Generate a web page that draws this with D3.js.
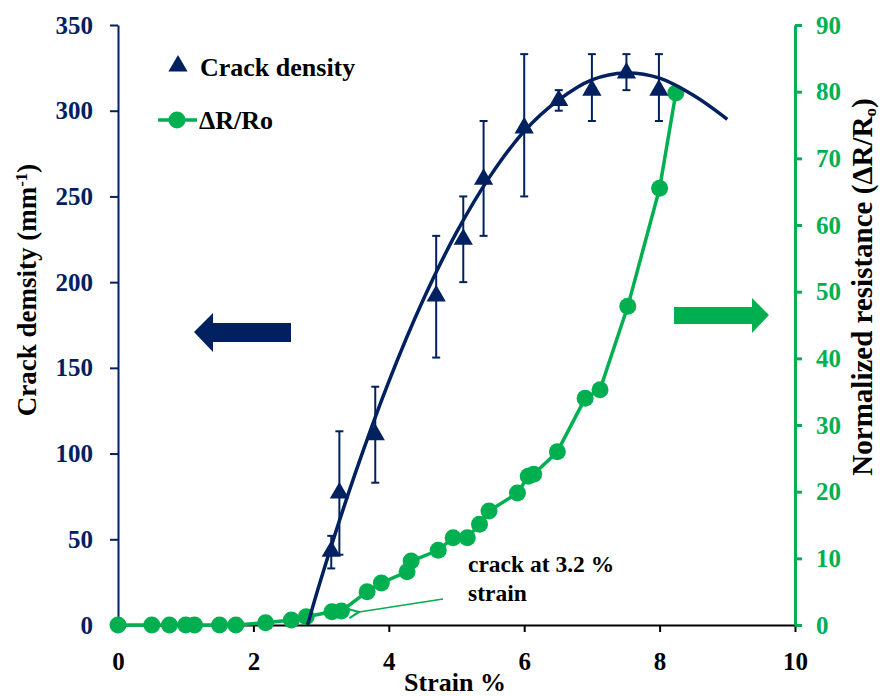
<!doctype html>
<html>
<head>
<meta charset="utf-8">
<title>Crack density and resistance vs strain</title>
<script src="https://d3js.org/d3.v7.min.js"></script>
<style>
  body { margin: 0; background: #fff; }
  text { font-family: "Liberation Serif", "Times New Roman", serif; font-weight: bold; }
</style>
</head>
<body>
<svg id="chart" width="889" height="696"></svg>
<script>
// crack density (triangles + error bars)
const crackStrain = [3.15, 3.27, 3.80, 4.70, 5.10, 5.40, 6.00, 6.51, 7.00, 7.51, 7.99];
const crackDensity = [43, 77, 111, 192, 225, 260, 290, 306, 312, 322, 312];
const crackLow = [33, 41, 83, 156, 200, 227, 250, 300, 294, 312, 294];
const crackHigh = [52, 113, 139, 227, 250, 294, 333, 312, 333, 333, 333];

// trend curve
const fitStrain = [2.8, 3.0, 3.5, 4.0, 4.5, 5.0, 5.5, 6.0, 6.5, 7.0, 7.5, 8.0, 8.5, 9.0];
const fitDensity = [0, 27, 88, 142, 189, 229, 262, 288, 306, 318, 322, 319, 309, 295];

// normalized resistance
const resStrain = [0, 0.5, 0.76, 1.0, 1.13, 1.5, 1.74, 2.18, 2.56, 2.78, 3.16, 3.30, 3.68, 3.89,
  4.27, 4.33, 4.73, 4.95, 5.16, 5.34, 5.48, 5.90, 6.06, 6.14, 6.49, 6.90, 7.12, 7.53, 8.0, 8.24];
const resValue = [0, 0, 0, 0, 0, 0, 0, 0.35, 0.75, 1.25, 2.0, 2.1, 5.0, 6.3,
  8.0, 9.6, 11.2, 13.1, 13.1, 15.1, 17.1, 19.8, 22.3, 22.6, 26.0, 34.0, 35.3, 47.8, 65.5, 79.8];

const xTicks = [0, 2, 4, 6, 8, 10];
const leftTicks = [0, 50, 100, 150, 200, 250, 300, 350];
const rightTicks = [0, 10, 20, 30, 40, 50, 60, 70, 80, 90];

const navy = "#002060", green = "#00B050";

const svg = d3.select("#chart");
const x = d3.scaleLinear().domain([0, 10]).range([118, 795]);
const yL = d3.scaleLinear().domain([0, 350]).range([625, 25]);
const yR = d3.scaleLinear().domain([0, 90]).range([625, 25]);

function styleTicks(g, color) {
  g.selectAll(".tick text").attr("font-size", 25).attr("fill", color)
    .style("font-family", "'Liberation Serif', 'Times New Roman', serif").style("font-weight", "bold");
}

// axes
const bottom = svg.append("g").attr("transform", "translate(0,625)")
  .call(d3.axisBottom(x).tickValues(xTicks).tickSize(7).tickPadding(20).tickSizeOuter(0));
bottom.select(".domain").attr("stroke", "#000").attr("stroke-width", 2);
bottom.selectAll(".tick line").attr("stroke", "#000").attr("stroke-width", 2);
styleTicks(bottom, "#000");

const left = svg.append("g").attr("transform", "translate(118,0)")
  .call(d3.axisLeft(yL).tickValues(leftTicks).tickSize(8).tickPadding(17).tickSizeOuter(0));
left.select(".domain").attr("stroke", navy).attr("stroke-width", 2);
left.selectAll(".tick line").attr("stroke", navy).attr("stroke-width", 2);
styleTicks(left, navy);

const right = svg.append("g").attr("transform", "translate(795,0)")
  .call(d3.axisRight(yR).tickValues(rightTicks).tickSize(7).tickPadding(14).tickSizeOuter(0));
right.select(".domain").attr("stroke", green).attr("stroke-width", 3);
right.selectAll(".tick line").attr("stroke", green).attr("stroke-width", 3);
styleTicks(right, green);

// axis titles
svg.append("text").attr("x", 455).attr("y", 691).attr("text-anchor", "middle")
  .attr("font-size", 26).text("Strain %");

const lt = svg.append("text").attr("transform", "translate(36,290) rotate(-90)")
  .attr("text-anchor", "middle").attr("font-size", 27);
lt.append("tspan").text("Crack demsity (mm");
lt.append("tspan").attr("baseline-shift", "super").attr("font-size", 17).text("-1");
lt.append("tspan").text(")");

const rt = svg.append("text").attr("transform", "translate(872,287) rotate(-90)")
  .attr("text-anchor", "middle").attr("font-size", 29);
rt.append("tspan").text("Normalized resistance (\u0394R/R");
rt.append("tspan").attr("baseline-shift", "-4").attr("font-size", 17).text("o");
rt.append("tspan").text(")");

// resistance line + markers
const resPts = resStrain.map((s, i) => [s, resValue[i]]);
svg.append("path").datum(resPts)
  .attr("fill", "none").attr("stroke", green).attr("stroke-width", 3.5)
  .attr("d", d3.line().x(d => x(d[0])).y(d => yR(d[1])));
svg.append("g").selectAll("circle").data(resPts).join("circle")
  .attr("cx", d => x(d[0])).attr("cy", d => yR(d[1])).attr("r", 8.5).attr("fill", green);

// crack density fit curve
const fitPts = fitStrain.map((s, i) => [s, fitDensity[i]]);
svg.append("path").datum(fitPts)
  .attr("fill", "none").attr("stroke", navy).attr("stroke-width", 3.5)
  .attr("d", d3.line().curve(d3.curveCatmullRom).x(d => x(d[0])).y(d => yL(d[1])));

// error bars
const crack = crackStrain.map((s, i) => ({ s, v: crackDensity[i], lo: crackLow[i], hi: crackHigh[i] }));
const eb = svg.append("g").attr("stroke", navy).attr("stroke-width", 2);
eb.selectAll(".v").data(crack).join("line")
  .attr("x1", d => x(d.s)).attr("x2", d => x(d.s)).attr("y1", d => yL(d.lo)).attr("y2", d => yL(d.hi));
eb.selectAll(".lo").data(crack).join("line")
  .attr("x1", d => x(d.s) - 4).attr("x2", d => x(d.s) + 4).attr("y1", d => yL(d.lo)).attr("y2", d => yL(d.lo));
eb.selectAll(".hi").data(crack).join("line")
  .attr("x1", d => x(d.s) - 4).attr("x2", d => x(d.s) + 4).attr("y1", d => yL(d.hi)).attr("y2", d => yL(d.hi));

const tri = d3.symbol().type(d3.symbolTriangle).size(160);
svg.append("g").selectAll("path").data(crack).join("path")
  .attr("transform", d => `translate(${x(d.s)},${yL(d.v)})`)
  .attr("d", tri).attr("fill", navy);

// legend
svg.append("path").attr("transform", "translate(178,66)").attr("d", tri).attr("fill", navy);
svg.append("text").attr("x", 200).attr("y", 76).attr("font-size", 26).text("Crack density");
svg.append("line").attr("x1", 158).attr("x2", 197).attr("y1", 120).attr("y2", 120)
  .attr("stroke", green).attr("stroke-width", 3.5);
svg.append("circle").attr("cx", 177).attr("cy", 120).attr("r", 8.5).attr("fill", green);
svg.append("text").attr("x", 199).attr("y", 129).attr("font-size", 26).text("\u0394R/Ro");

// block arrows
svg.append("path").attr("fill", navy)
  .attr("d", d3.line()([[194, 332], [213, 313], [213, 323], [291, 323], [291, 342], [213, 342], [213, 352]]) + "Z");
svg.append("path").attr("fill", green)
  .attr("d", d3.line()([[674, 307], [752, 307], [752, 298], [769, 315], [752, 333], [752, 324], [674, 324]]) + "Z");

// annotation
const noteFrom = [4.8, 3.9], noteTo = [3.56, 1.95];
svg.append("defs").append("marker").attr("id", "ah")
  .attr("viewBox", "0 0 10 10").attr("refX", 1).attr("refY", 5)
  .attr("markerUnits", "userSpaceOnUse").attr("markerWidth", 13).attr("markerHeight", 13)
  .attr("orient", "auto")
  .append("path").attr("d", "M9,1.5 L1,5 L9,8.5").attr("fill", "none")
  .attr("stroke", green).attr("stroke-width", 1.6);
svg.append("line")
  .attr("x1", x(noteFrom[0])).attr("y1", yR(noteFrom[1]))
  .attr("x2", x(noteTo[0])).attr("y2", yR(noteTo[1]))
  .attr("stroke", green).attr("stroke-width", 1.5).attr("marker-end", "url(#ah)");
svg.append("text").attr("x", x(5.17)).attr("y", yR(7.9)).attr("font-size", 23.5).text("crack at 3.2 %");
svg.append("text").attr("x", x(5.17)).attr("y", yR(3.55)).attr("font-size", 23.5).text("strain");
</script>
</body>
</html>
